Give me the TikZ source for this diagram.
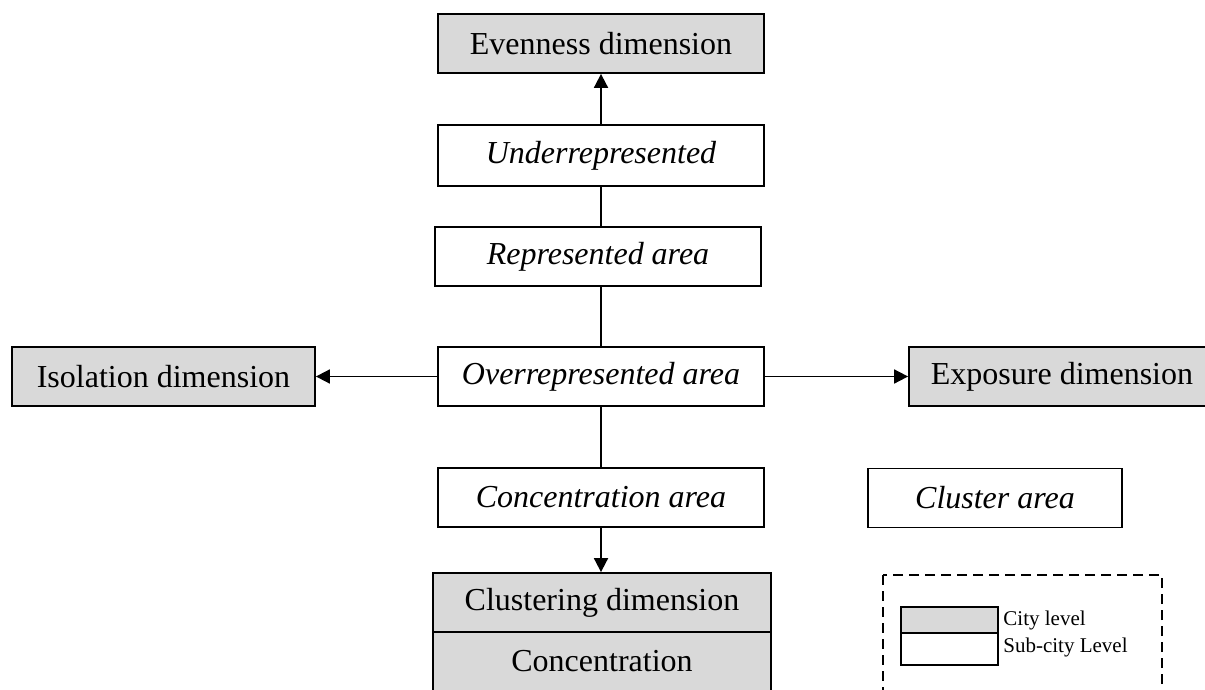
\documentclass[tikz,border=0pt]{standalone}
\usepackage{fontspec}
\setmainfont{Liberation Serif}
\usetikzlibrary{arrows.meta}
\definecolor{cityfill}{HTML}{D9D9D9}
\tikzset{
  citybox/.style={draw, fill=cityfill, line width=0.9pt, inner sep=0pt, minimum height=29.5pt, font=\fontsize{16}{19}\selectfont},
  subbox/.style={draw, fill=white, line width=0.9pt, inner sep=0pt, minimum height=29.5pt, font=\fontsize{16}{19}\selectfont\itshape},
  legbox/.style={draw, line width=0.9pt, inner sep=0pt, minimum width=48.5pt},
  legtext/.style={anchor=west, inner sep=0pt, font=\fontsize{10.5}{12}\selectfont},
  link/.style={line width=0.9pt},
  arr/.style={line width=0.9pt, -{Triangle[length=7pt,width=7pt]}}
}
\begin{document}
\begin{tikzpicture}[x=0.5pt,y=-0.5pt]
\useasboundingbox (0,0) rectangle (1205,690);

\node[citybox, minimum width=163pt] (even) at (601,43.5) {Evenness dimension};
\node[subbox, minimum width=163pt, minimum height=30.5pt] (under) at (601,155.5) {Underrepresented};
\node[subbox, minimum width=163pt] (repr) at (598,256.5) {Represented area};
\node[subbox, minimum width=163pt] (over) at (601,376.5) {Overrepresented area};
\node[citybox, minimum width=151.5pt] (iso) at (163.5,376.5) {Isolation dimension};
\node[citybox, minimum width=153pt] (expo) at (1062,376.5) {Exposure dimension};
\node[subbox, minimum width=163pt] (concarea) at (601,497.5) {Concentration area};
\node[subbox, minimum width=127pt] (clusarea) at (995,498) {Cluster area};
\node[citybox, minimum width=169pt] (clusdim) at (602,602.5) {Clustering dimension};
\node[citybox, minimum width=169pt] (conc) at (602,661.5) {Concentration};

% legend
\draw[line width=0.9pt, dash pattern=on 5pt off 3pt] (883,575) rectangle (1162,730);
\node[legbox, fill=cityfill, minimum height=13pt] (legcity) at (949.5,620) {};
\node[legbox, fill=white, minimum height=16pt] (legsub) at (949.5,649) {};
\node[legtext] (legcitytext) at (1003,620) {City level};
\node[legtext] (legsubtext) at (1003,647) {Sub-city Level};

\draw[arr] (under) -- (even);
\draw[link] (under.south) -- (under.south |- repr.north);
\draw[link] (repr.south -| over.north) -- (over.north);
\draw[arr] (over) -- (iso);
\draw[arr] (over) -- (expo);
\draw[link] (over) -- (concarea);
\draw[arr] (concarea.south) -- (concarea.south |- clusdim.north);
\end{tikzpicture}
\end{document}
